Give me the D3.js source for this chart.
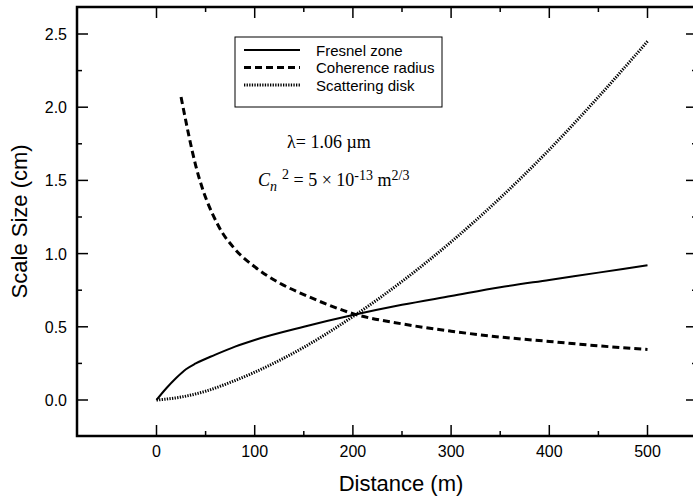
<!DOCTYPE html>
<html>
<head>
<meta charset="utf-8">
<script src="https://cdn.jsdelivr.net/npm/d3@7"></script>
<style>
body { margin: 0; background: white; }
text { font-family: "Liberation Sans", Arial, sans-serif; }
.serif { font-family: "Liberation Serif", "Times New Roman", serif; }
</style>
</head>
<body>
<svg width="693" height="498"></svg>
<script>
// values (distance in m, size in cm)
const fresnelX = [0, 10, 20, 30, 40, 60, 80, 100, 150, 200, 250, 300, 350, 400, 450, 500]
const fresnelY = [0, 0.08, 0.15, 0.21, 0.25, 0.31, 0.365, 0.41, 0.50, 0.58, 0.65, 0.71, 0.77, 0.82, 0.87, 0.92]
const coherX = [25, 40, 63, 80, 100, 125, 150, 175, 200, 250, 300, 350, 400, 450, 500]
const coherY = [2.07, 1.60, 1.19, 1.03, 0.91, 0.80, 0.72, 0.65, 0.59, 0.52, 0.47, 0.43, 0.40, 0.37, 0.345]
const scatX = [0, 25, 50, 75, 100, 150, 200, 250, 300, 350, 400, 450, 500]
const scatY = [0, 0.02, 0.06, 0.12, 0.19, 0.36, 0.57, 0.81, 1.08, 1.38, 1.71, 2.07, 2.45]

const xTicks = [0, 100, 200, 300, 400, 500]
const xMinor = [50, 150, 250, 350, 450]
const yTicks = [0, 0.5, 1.0, 1.5, 2.0, 2.5]
const yMinor = [0.25, 0.75, 1.25, 1.75, 2.25]
const legendNames = ["Fresnel zone", "Coherence radius", "Scattering disk"]

// frame runs off the right edge of the picture
const pLeft = 77, pRight = 697, pTop = 7, pBottom = 436

const x = d3.scaleLinear().domain([0, 500]).range([156.5, 647.5])
const y = d3.scaleLinear().domain([0, 2.5]).range([400, 34])

const svg = d3.select("svg")

const styles = [
    { width: 2, dash: null },
    { width: 3, dash: "7,4" },
    { width: 3, dash: "1.3,1.3" }
]

const series = [
    fresnelX.map((d, i) => [d, fresnelY[i]]),
    coherX.map((d, i) => [d, coherY[i]]),
    scatX.map((d, i) => [d, scatY[i]])
]

const line = d3.line()
    .x(d => x(d[0]))
    .y(d => y(d[1]))
    .curve(d3.curveMonotoneX)

series.forEach((s, i) => {
    svg.append("path")
        .attr("d", line(s))
        .attr("fill", "none")
        .attr("stroke", "black")
        .attr("stroke-width", styles[i].width)
        .attr("stroke-dasharray", styles[i].dash)
})

// frame
svg.append("rect")
    .attr("x", pLeft)
    .attr("y", pTop)
    .attr("width", pRight - pLeft)
    .attr("height", pBottom - pTop)
    .attr("fill", "none")
    .attr("stroke", "black")
    .attr("stroke-width", 2.5)

// ticks, all pointing inward
function ticks(vals, len, isX) {
    vals.forEach(v => {
        if (isX) {
            svg.append("line").attr("x1", x(v)).attr("x2", x(v))
                .attr("y1", pBottom).attr("y2", pBottom - len)
                .attr("stroke", "black").attr("stroke-width", 1.5)
            svg.append("line").attr("x1", x(v)).attr("x2", x(v))
                .attr("y1", pTop).attr("y2", pTop + len)
                .attr("stroke", "black").attr("stroke-width", 1.5)
        } else {
            svg.append("line").attr("y1", y(v)).attr("y2", y(v))
                .attr("x1", pLeft).attr("x2", pLeft + len)
                .attr("stroke", "black").attr("stroke-width", 1.5)
            svg.append("line").attr("y1", y(v)).attr("y2", y(v))
                .attr("x1", pRight).attr("x2", pRight - len)
                .attr("stroke", "black").attr("stroke-width", 1.5)
        }
    })
}
ticks(xTicks, 11, true)
ticks(xMinor, 5, true)
ticks(yTicks, 11, false)
ticks(yMinor, 5, false)

svg.selectAll("text.xt")
    .data(xTicks)
    .join("text")
    .attr("x", d => x(d))
    .attr("y", 457)
    .attr("text-anchor", "middle")
    .attr("font-size", 16)
    .text(d => d)

svg.selectAll("text.yt")
    .data(yTicks)
    .join("text")
    .attr("x", 67)
    .attr("y", d => y(d) + 6)
    .attr("text-anchor", "end")
    .attr("font-size", 16)
    .text(d => d.toFixed(1))

svg.append("text")
    .attr("x", 401)
    .attr("y", 491)
    .attr("text-anchor", "middle")
    .attr("font-size", 22)
    .text("Distance (m)")

svg.append("text")
    .attr("transform", "translate(27," + y(1.22) + ") rotate(-90)")
    .attr("text-anchor", "middle")
    .attr("font-size", 22)
    .text("Scale Size (cm)")

// legend
const lg = svg.append("g").attr("transform", "translate(235,37)")
lg.append("rect")
    .attr("width", 207)
    .attr("height", 70)
    .attr("fill", "white")
    .attr("stroke", "black")
    .attr("stroke-width", 1)
legendNames.forEach((n, i) => {
    const yy = 13 + i * 17.5
    lg.append("line")
        .attr("x1", 9).attr("x2", 65)
        .attr("y1", yy).attr("y2", yy)
        .attr("stroke", "black")
        .attr("stroke-width", styles[i].width)
        .attr("stroke-dasharray", styles[i].dash)
    lg.append("text")
        .attr("x", 81)
        .attr("y", yy + 5.5)
        .attr("font-size", 15)
        .text(n)
})

// annotations
const a1 = svg.append("text").attr("class", "serif")
    .attr("x", 287).attr("y", 148).attr("font-size", 18)
a1.append("tspan").text("λ= 1.06 µm")

const a2 = svg.append("text").attr("class", "serif")
    .attr("x", 258).attr("y", 186).attr("font-size", 18)
a2.append("tspan").attr("font-style", "italic").text("C")
a2.append("tspan").attr("font-style", "italic").attr("font-size", 14).attr("dy", 5).text("n")
a2.append("tspan").attr("font-size", 14).attr("dy", -12).attr("dx", 5).text("2")
a2.append("tspan").attr("dy", 7).text(" = 5 × 10")
a2.append("tspan").attr("font-size", 14).attr("dy", -6).text("-13")
a2.append("tspan").attr("dy", 6).text(" m")
a2.append("tspan").attr("font-size", 14).attr("dy", -6).text("2/3")
</script>
</body>
</html>
